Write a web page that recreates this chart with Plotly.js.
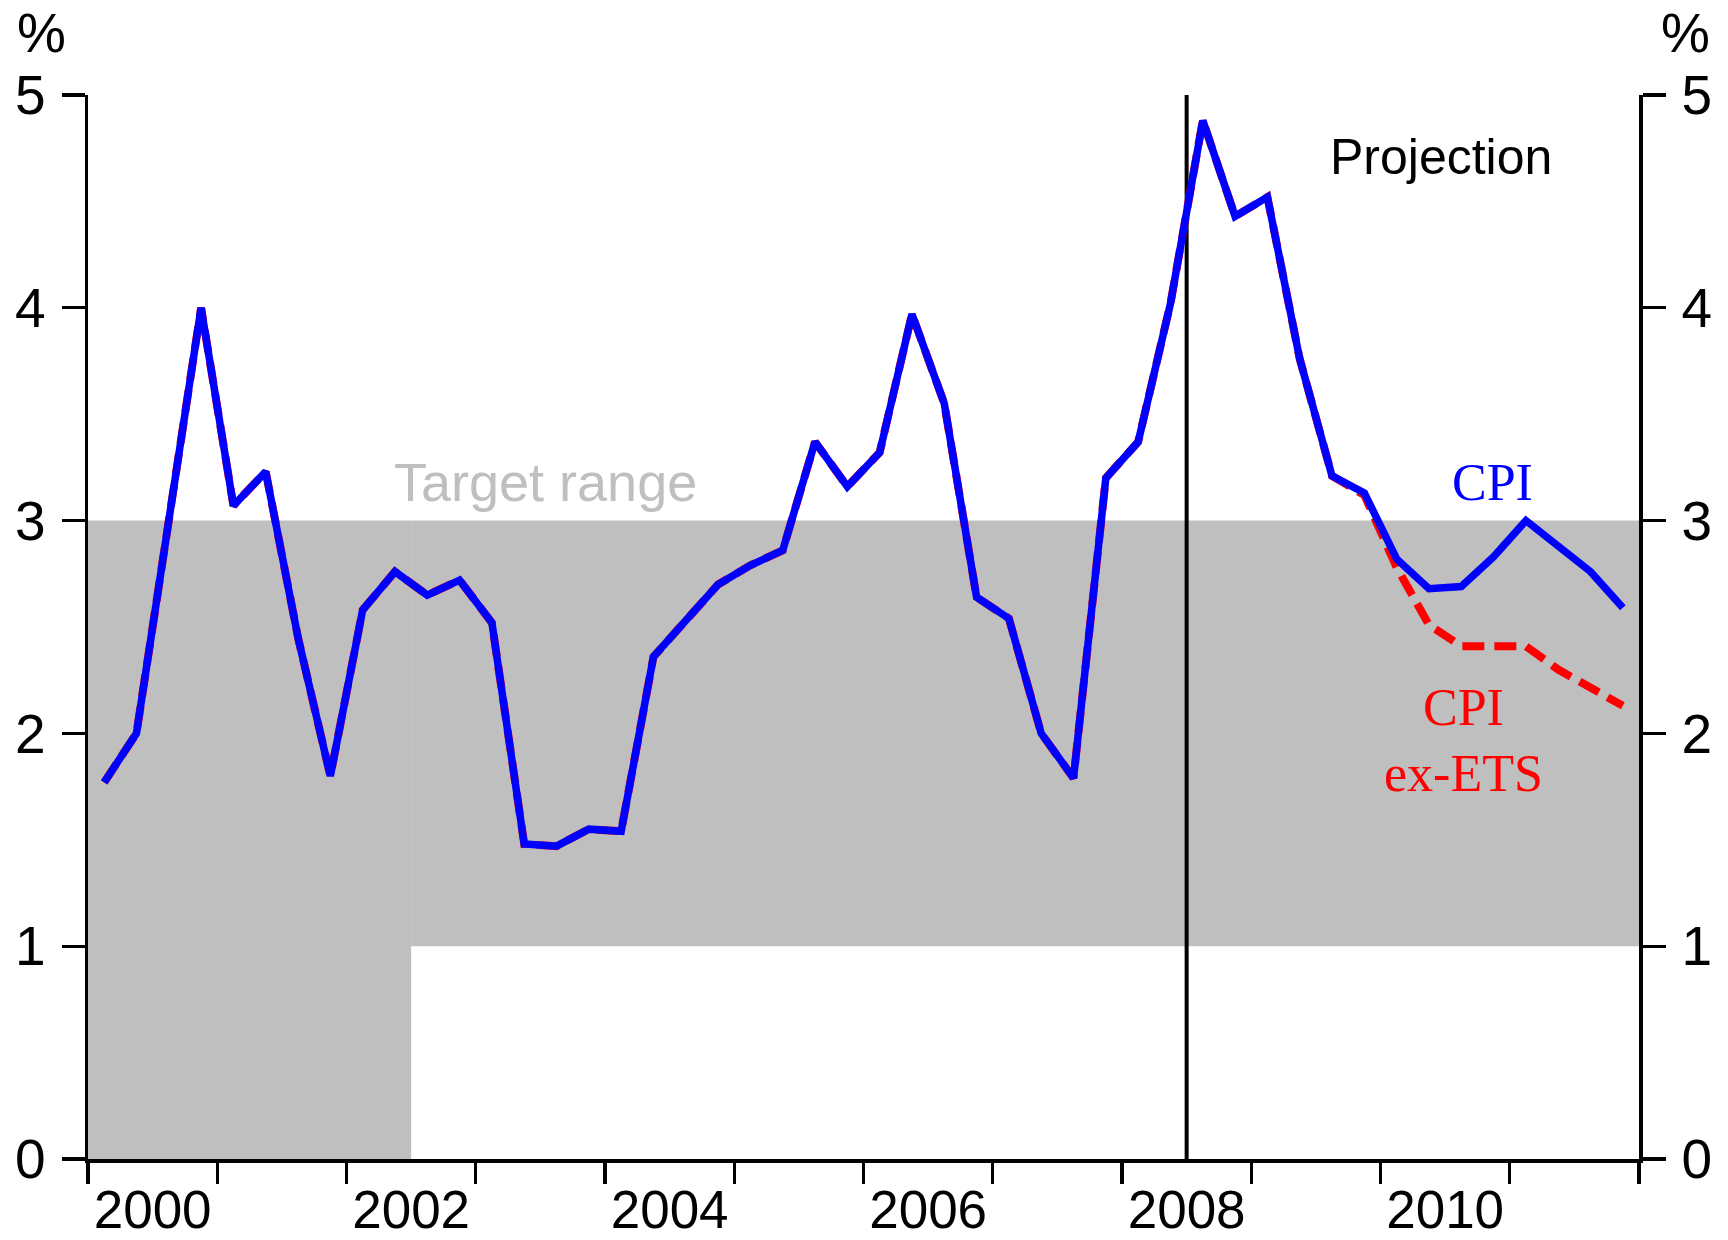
<!DOCTYPE html>
<html>
<head>
<meta charset="utf-8">
<script src="https://cdn.plot.ly/plotly-3.0.1.min.js"></script>
<style>html,body{margin:0;padding:0;background:#fff;}#chart{width:1728px;height:1240px;}</style>
</head>
<body>
<div id="chart"></div>
<script>
// ---- Data (annual % change, quarterly) ----
const years = [2000,2001,2002,2003,2004,2005,2006,2007,2008,2009,2010,2011];
const quarterNums = [1,2,3,4];
const cpi = [
  1.77, 2.00, 3.00, 4.00,
  3.07, 3.23, 2.45, 1.80,
  2.58, 2.76, 2.65, 2.72,
  2.52, 1.48, 1.47, 1.55,
  1.54, 2.36, 2.53, 2.70,
  2.79, 2.86, 3.37, 3.16,
  3.32, 3.97, 3.55, 2.64,
  2.54, 2.00, 1.79, 3.20,
  3.37, 4.02, 4.88, 4.43,
  4.52, 3.76, 3.21, 3.13,
  2.82, 2.68, 2.69, 2.83,
  3.00, 2.88, 2.76, 2.59
];
const cpiExEts = [
  1.77, 2.00, 3.00, 4.00,
  3.07, 3.23, 2.45, 1.80,
  2.58, 2.76, 2.65, 2.72,
  2.52, 1.48, 1.47, 1.55,
  1.54, 2.36, 2.53, 2.70,
  2.79, 2.86, 3.37, 3.16,
  3.32, 3.97, 3.55, 2.64,
  2.54, 2.00, 1.79, 3.20,
  3.37, 4.02, 4.88, 4.43,
  4.52, 3.76, 3.21, 3.12,
  2.78, 2.51, 2.41, 2.41,
  2.41, 2.30, 2.21, 2.13
];
// Target range bands: [start, end, low, high]
const targetStart = [2000, 2002.5];
const targetEnd   = [2002.5, 2012];
const targetLow   = [0, 1];
const targetHigh  = [3, 3];
const projectionStart = 2008.5;
const xTickYears = [2000,2001,2002,2003,2004,2005,2006,2007,2008,2009,2010,2011,2012];
const xLabelYears = [2000,2002,2004,2006,2008,2010];
const yTicks = [0,1,2,3,4,5];

// quarter mid-points on a decimal-year axis
const qx = [];
years.forEach(y => quarterNums.forEach(q => qx.push(y + (q - 0.5) / 4)));

const sans = 'Liberation Sans, Arial, sans-serif';
const serif = 'Liberation Serif, Times New Roman, serif';

const traces = [
  {x: qx, y: cpiExEts, type: 'scatter', mode: 'lines', name: 'CPI ex-ETS',
   line: {color: '#FF0000', width: 8, dash: '22px,10px'}, hoverinfo: 'skip'},
  {x: qx, y: cpi, type: 'scatter', mode: 'lines', name: 'CPI',
   line: {color: '#0000FF', width: 7.5}, hoverinfo: 'skip'},
  {x: [], y: [], yaxis: 'y2', type: 'scatter', showlegend: false}
];

const shapes = targetStart.map((s, i) => ({
  type: 'rect', xref: 'x', yref: 'y', x0: s, x1: targetEnd[i], y0: targetLow[i], y1: targetHigh[i],
  fillcolor: '#BFBFBF', line: {width: 0}, layer: 'below'
}));
shapes.push({type: 'line', xref: 'x', yref: 'y', x0: projectionStart, x1: projectionStart, y0: 0, y1: 5,
  line: {color: '#000', width: 4}, layer: 'below'});

const yaxisBase = {
  range: [0, 5], tickmode: 'array', tickvals: yTicks, ticktext: yTicks.map(String),
  ticks: 'outside', ticklen: 23, tickwidth: 3.3, tickcolor: '#000',
  showline: true, linewidth: 3.5, linecolor: '#000', showgrid: false, zeroline: false,
  tickfont: {family: sans, size: 55, color: '#000'}, ticklabelstandoff: 5, fixedrange: true
};

const layout = {
  width: 1728, height: 1240,
  margin: {l: 88, r: 89, t: 95, b: 81, pad: 0},
  paper_bgcolor: '#fff', plot_bgcolor: '#fff',
  showlegend: false,
  xaxis: {
    range: [2000, 2012], tickmode: 'array',
    tickvals: xLabelYears.map(y => y + 0.5), ticktext: xLabelYears.map(String),
    ticks: '', showline: true, linewidth: 3.5, linecolor: '#000',
    showgrid: false, zeroline: false,
    tickfont: {family: sans, size: 53, color: '#000'}, ticklabelstandoff: 2,
    minor: {tickmode: 'array', tickvals: xTickYears, ticks: 'outside', ticklen: 21, tickwidth: 3.3, tickcolor: '#000', showgrid: false},
    fixedrange: true
  },
  yaxis: Object.assign({}, yaxisBase, {side: 'left'}),
  yaxis2: Object.assign({}, yaxisBase, {side: 'right', overlaying: 'y'}),
  shapes: shapes,
  annotations: [
    {xref: 'paper', yref: 'paper', x: -0.030, y: 1.058, text: '%', showarrow: false,
     font: {family: sans, size: 55, color: '#000'}, xanchor: 'center', yanchor: 'middle'},
    {xref: 'paper', yref: 'paper', x: 1.0297, y: 1.058, text: '%', showarrow: false,
     font: {family: sans, size: 55, color: '#000'}, xanchor: 'center', yanchor: 'middle'},
    {xref: 'x', yref: 'y', x: 2010.47, y: 4.71, text: 'Projection', showarrow: false,
     font: {family: sans, size: 50, color: '#000'}, xanchor: 'center', yanchor: 'middle'},
    {xref: 'x', yref: 'y', x: 2003.54, y: 3.18, text: 'Target range', showarrow: false,
     font: {family: sans, size: 54, color: '#BFBFBF'}, xanchor: 'center', yanchor: 'middle'},
    {xref: 'x', yref: 'y', x: 2010.87, y: 3.18, text: 'CPI', showarrow: false,
     font: {family: serif, size: 52, color: '#0000FF'}, xanchor: 'center', yanchor: 'middle'},
    {xref: 'x', yref: 'y', x: 2010.64, y: 2.12, text: 'CPI', showarrow: false,
     font: {family: serif, size: 52, color: '#FF0000'}, xanchor: 'center', yanchor: 'middle'},
    {xref: 'x', yref: 'y', x: 2010.64, y: 1.81, text: 'ex-ETS', showarrow: false,
     font: {family: serif, size: 52, color: '#FF0000'}, xanchor: 'center', yanchor: 'middle'}
  ]
};

Plotly.newPlot('chart', traces, layout, {displayModeBar: false, staticPlot: true});
</script>
</body>
</html>
